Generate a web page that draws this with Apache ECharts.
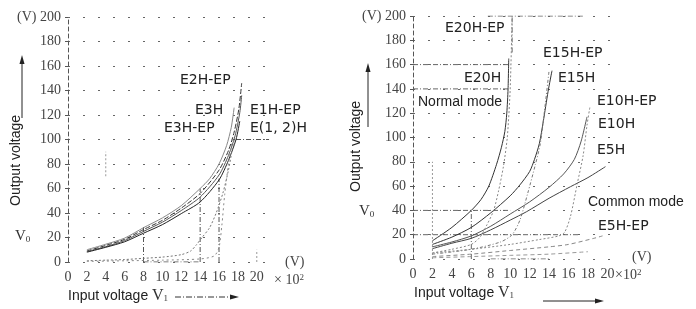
<!DOCTYPE html>
<html>
<head>
<meta charset="utf-8">
<script src="https://cdn.jsdelivr.net/npm/echarts@6/dist/echarts.min.js"></script>
<style>
html,body{margin:0;padding:0;background:#fff;}
#c{width:696px;height:309px;}
</style>
</head>
<body>
<div id="c"></div>
<script>
// ---------- tick labels ----------
const xTicks = [0, 2, 4, 6, 8, 10, 12, 14, 16, 18, 20];
const yTicks = [0, 20, 40, 60, 80, 100, 120, 140, 160, 180, 200];

// ---------- left panel (E1H / E2H / E3H) : [input x10^2 V, output V] ----------
const E3H      = [[2,10],[4,14.5],[6,19.5],[8,28],[10,36],[12,46],[14,60],[15,68],[16,80],[16.8,95],[17.3,110],[17.6,126]];
const E2H_EP   = [[2,9],[4,13.5],[6,18.5],[8,26.5],[10,34],[12,44],[14,56],[16,75],[17,91],[17.6,106],[18.1,125],[18.4,146]];
const E1H_EP   = [[2,8.5],[4,12.5],[6,17.5],[8,25],[10,32.5],[12,42],[14,53],[16,71],[17,87],[17.7,103],[18.2,122],[18.4,136]];
const E12H     = [[2,8],[4,12],[6,16.5],[8,23.5],[10,30.5],[12,39.5],[14,49],[16,67],[17,83],[17.8,100],[18.2,115]];
const E3H_EP   = [[2,1],[4,1.5],[6,2],[8,3],[10,4],[12,6],[13,9],[13.6,14],[14.2,20],[15,28],[15.7,40],[16.4,56],[17,75],[17.4,92],[17.6,100]];
const E12H_EP  = [[2,0.5],[6,1],[10,1.5],[14,2.5],[15.5,5],[16,12],[16.3,30],[16.6,55],[17,80],[17.4,100]];
const leftRefs = [
  [[14,0],[14,60]],
  [[16,0],[16,68]],
  [[17.8,100],[21.3,100]],
  [[8,0],[14,0]],
  [[8,0],[8,30]]
];
const leftDots = [
  [[4,70],[4,90]],
  [[20,0],[20,10]]
];

// ---------- right panel (E5H .. E20H) ----------
const E20H     = [[2,15],[4,26],[6,40],[7,49],[7.8,60],[8.6,78],[9.1,92],[9.45,105],[9.65,120],[9.78,140],[9.85,165]];
const E15H     = [[2,12],[4,18],[6,26],[8,38],[10,52],[11,61],[12,72],[12.5,82],[13,95],[13.4,113],[13.9,138],[14.3,155]];
const E10H     = [[2,10],[4,14],[6,19],[8,27],[10,37],[12,47],[14,59],[15.5,70],[16.6,82],[17.3,97],[17.9,117]];
const E5H      = [[2,8.5],[4,13],[6,17],[8,24],[10,32],[11.7,39],[14,50],[16.2,59.5],[18,67],[19.8,76]];
const E20H_EP  = [[2,5],[4,8],[6,12],[6.9,18],[7.6,28],[8.3,40],[8.8,56],[9.3,76],[9.7,100],[10,140],[10.2,200]];
const E15H_EP  = [[2,4],[6,8],[9,14],[10.2,20],[11,32],[11.8,54],[12.6,78],[13.1,95],[13.5,120],[14,155]];
const E10H_EP  = [[2,5],[6,8],[10,12],[13,16],[15,19],[15.6,22],[16.2,35],[16.9,62],[17.5,85],[17.9,110],[18.2,125]];
const E5H_EP   = [[2,2],[6,4],[10,7],[14,10],[16,12],[18.6,17],[19.5,19]];
const E5H_CM   = [[2,1],[6,2],[10,3],[14,4],[18,6]];
const rightRefs = [
  [[0,160],[10,160]],
  [[0,140],[10,140]],
  [[0,40],[10,40]],
  [[0,20],[17,20]],
  [[6,0],[6,40]],
  [[10.2,170],[10.2,200]],
  [[7.7,200],[17.5,200]],
  [[8,0],[14,0]]
];
const rightDots = [
  [[2,0],[2,80]]
];

const serif = 'Liberation Serif';

function curve(data, idx, color, type, width) {
  return {
    type: 'line', xAxisIndex: idx, yAxisIndex: idx, data: data,
    smooth: 0.25, symbol: 'none', silent: true,
    lineStyle: { color: color, width: width || 1, type: type || 'solid' }
  };
}
function refs(list, idx, color, type) {
  return list.map(seg => ({
    type: 'line', xAxisIndex: idx, yAxisIndex: idx, data: seg,
    symbol: 'none', silent: true,
    lineStyle: { color: color, width: 1, type: type }
  }));
}

function xAxis(idx) {
  return {
    type: 'value', gridIndex: idx, min: 0, max: 21.4, interval: 2,
    axisLine: { show: false }, axisTick: { show: false },
    splitLine: { show: false },
    axisLabel: { show: true, showMaxLabel: false, margin: 8, fontFamily: serif, fontSize: 14, color: '#444' }
  };
}
function yAxis(idx) {
  return {
    type: 'value', gridIndex: idx, min: 0, max: 200, interval: 20,
    axisLine: { show: true, lineStyle: { color: '#555', type: [4, 3], width: 1 } },
    axisTick: { show: true, length: 3, lineStyle: { color: '#555' } },
    splitLine: { show: true, lineStyle: { color: '#666', type: [2, 13], width: 1.2 } },
    axisLabel: {
      margin: 7, fontFamily: serif, fontSize: 14, color: '#444',
      formatter: v => v === 200 ? '(V) 200' : String(v)
    }
  };
}

const chart = echarts.init(document.getElementById('c'), null, { renderer: 'canvas' });

const lbl = (text, x, y, font) => ({
  type: 'text', left: x, top: y, silent: true,
  style: { text: text, font: font || '14px "DejaVu Sans"', fill: '#222' }
});
const subRich = { s: { fontSize: 9, fontFamily: serif, fill: '#333', padding: [6, 0, 0, 0] } };
const supRich = { s: { fontSize: 9, verticalAlign: 'top', fontFamily: serif, fill: '#444', padding: [0, 0, 6, 0] } };

const graphics = [
  // left panel labels
  lbl('E2H-EP', 180, 73), lbl('E3H', 195, 103), lbl('E1H-EP', 250, 103),
  lbl('E3H-EP', 164, 121), lbl('E(1, 2)H', 250, 121),
  // right panel labels
  lbl('E20H-EP', 445, 21), lbl('E15H-EP', 543, 46), lbl('E20H', 464, 71), lbl('E15H', 558, 71),
  lbl('Normal mode', 418, 95, '14px "Liberation Sans"'),
  lbl('E10H-EP', 597, 94), lbl('E10H', 598, 117), lbl('E5H', 597, 143),
  lbl('Common mode', 588, 195, '14px "Liberation Sans"'),
  lbl('E5H-EP', 598, 219),
  // units
  { type: 'text', left: 285, top: 255, silent: true, style: { text: '(V)', font: '14px "Liberation Serif"', fill: '#444' } },
  { type: 'text', left: 274, top: 273, silent: true, style: { text: '× 10{s|2}', font: '14px "Liberation Serif"', fill: '#444', rich: supRich } },
  { type: 'text', left: 632, top: 250, silent: true, style: { text: '(V)', font: '14px "Liberation Serif"', fill: '#444' } },
  { type: 'text', left: 615, top: 268, silent: true, style: { text: '×10{s|2}', font: '14px "Liberation Serif"', fill: '#444', rich: supRich } },
  // y-axis titles (rotated, read bottom to top)
  { type: 'text', x: 16, y: 206, rotation: Math.PI / 2, silent: true,
    style: { text: 'Output voltage', font: '14px "Liberation Sans"', fill: '#222', textVerticalAlign: 'middle' } },
  { type: 'text', x: 356, y: 192, rotation: Math.PI / 2, silent: true,
    style: { text: 'Output voltage', font: '14px "Liberation Sans"', fill: '#222', textVerticalAlign: 'middle' } },
  { type: 'line', silent: true, shape: { x1: 22, y1: 118, x2: 22, y2: 62 }, style: { stroke: '#222', lineWidth: 1 } },
  { type: 'polygon', silent: true, shape: { points: [[22, 55], [19.5, 64], [24.5, 64]] }, style: { fill: '#222' } },
  { type: 'line', silent: true, shape: { x1: 368, y1: 127, x2: 368, y2: 70 }, style: { stroke: '#222', lineWidth: 1 } },
  { type: 'polygon', silent: true, shape: { points: [[368, 63], [365.5, 72], [370.5, 72]] }, style: { fill: '#222' } },
  { type: 'text', left: 15, top: 229, silent: true, style: { text: 'V{s|0}', font: '15px "Liberation Serif"', fill: '#333', rich: subRich } },
  { type: 'text', left: 359, top: 204, silent: true, style: { text: 'V{s|0}', font: '15px "Liberation Serif"', fill: '#333', rich: subRich } },
  // x-axis titles
  { type: 'text', left: 68, top: 288, silent: true, style: { text: 'Input voltage {v|V}{s|1}', font: '14px "Liberation Sans"', fill: '#222', rich: { v: { fontFamily: serif, fontSize: 16, fill: '#333' }, s: subRich.s } } },
  { type: 'line', silent: true, shape: { x1: 175, y1: 297, x2: 232, y2: 297 }, style: { stroke: '#333', lineWidth: 1, lineDash: [6, 2, 1, 2] } },
  { type: 'polygon', silent: true, shape: { points: [[239, 297], [230, 294.5], [230, 299.5]] }, style: { fill: '#222' } },
  { type: 'text', left: 414, top: 285, silent: true, style: { text: 'Input voltage {v|V}{s|1}', font: '14px "Liberation Sans"', fill: '#222', rich: { v: { fontFamily: serif, fontSize: 16, fill: '#333' }, s: subRich.s } } },
  { type: 'line', silent: true, shape: { x1: 543, y1: 301, x2: 597, y2: 301 }, style: { stroke: '#222', lineWidth: 1 } },
  { type: 'polygon', silent: true, shape: { points: [[604, 301], [595, 298.5], [595, 303.5]] }, style: { fill: '#222' } }
];

const series = [].concat(
  refs(leftRefs, 0, '#555', [5, 2, 1, 2]),
  refs(leftDots, 0, '#999', [2, 2]),
  [
    curve(E3H, 0, '#888'),
    curve(E2H_EP, 0, '#333', [5, 2]),
    curve(E1H_EP, 0, '#555'),
    curve(E12H, 0, '#222'),
    curve(E3H_EP, 0, '#777', [2, 2]),
    curve(E12H_EP, 0, '#888', [2, 3])
  ],
  refs(rightRefs, 1, '#666', [5, 2, 1, 2]),
  refs(rightDots, 1, '#999', [2, 2]),
  [
    curve(E20H, 1, '#333'),
    curve(E15H, 1, '#333'),
    curve(E10H, 1, '#555'),
    curve(E5H, 1, '#444'),
    curve(E20H_EP, 1, '#888', [2, 2]),
    curve(E15H_EP, 1, '#777', [3, 2, 1, 2]),
    curve(E10H_EP, 1, '#888', [2, 2]),
    curve(E5H_EP, 1, '#888', [4, 3]),
    curve(E5H_CM, 1, '#999', [4, 3])
  ]
);

chart.setOption({
  animation: false,
  backgroundColor: '#fff',
  grid: [
    { left: 68, top: 17, width: 202, height: 245, containLabel: false },
    { left: 413, top: 16, width: 208, height: 243, containLabel: false }
  ],
  xAxis: [xAxis(0), xAxis(1)],
  yAxis: [yAxis(0), yAxis(1)],
  series: series,
  graphic: graphics
});
</script>
</body>
</html>
